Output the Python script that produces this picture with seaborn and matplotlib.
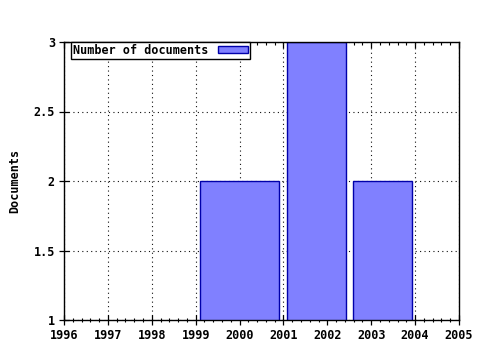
import matplotlib
matplotlib.use("Agg")
import matplotlib.pyplot as plt
import seaborn as sns
import numpy as np

# Data
years = [2000, 2002, 2003]
counts = [2, 3, 2]
bin_edges = [1999, 2001, 2002.5, 2004]
series_label = "Number of documents"
x_ticks = list(range(1996, 2006))
y_ticks = [1, 1.5, 2, 2.5, 3]
y_tick_labels = ["1", "1.5", "2", "2.5", "3"]
y_label = "Documents"

sns.set_style("white")
plt.rcParams['font.family'] = ['DejaVu Sans Mono']
plt.rcParams['font.weight'] = 'bold'
plt.rcParams['text.color'] = 'black'
plt.rcParams['axes.labelcolor'] = 'black'
plt.rcParams['xtick.color'] = 'black'
plt.rcParams['ytick.color'] = 'black'
FS = 8.5

fig = plt.figure(figsize=(4.8, 3.5), dpi=100)
ax = fig.add_axes([64/480, 1-320/350, (459-64)/480, (320-42)/350])

sns.histplot(x=years, weights=counts, bins=bin_edges, shrink=0.9,
             color="#8080ff", edgecolor="#0000aa", linewidth=1.0, alpha=1.0,
             label=series_label, ax=ax)

ax.set_xlim(1996, 2005)
ax.set_ylim(1, 3)
ax.set_xticks(x_ticks)
ax.set_xticklabels([str(t) for t in x_ticks], fontsize=FS, fontweight='bold', color='black')
ax.set_xticks(np.arange(1996, 2005.001, 0.2), minor=True)
ax.set_yticks(y_ticks)
ax.set_yticklabels(y_tick_labels, fontsize=FS, fontweight='bold', color='black')
ax.set_ylabel(y_label, fontsize=FS, fontweight='bold', labelpad=9, color='black')
ax.set_xlabel("")

ax.grid(True, which='major', color='#111111', linestyle=(0, (1, 3)), linewidth=0.8)
ax.set_axisbelow(True)

for s in ax.spines.values():
    s.set_color('black')
    s.set_linewidth(1.0)
    s.set_visible(True)

ax.tick_params(axis='x', which='major', direction='inout', length=7, width=0.9,
               color='black', pad=3, bottom=True)
ax.tick_params(axis='x', which='minor', direction='inout', length=3, width=0.8,
               color='black', bottom=True)
ax.tick_params(axis='y', which='major', direction='inout', length=7, width=0.9,
               color='black', pad=3, left=True)

top = ax.secondary_xaxis('top')
top.set_xticks(x_ticks)
top.set_xticks(np.arange(1996, 2005.001, 0.2), minor=True)
top.tick_params(which='major', direction='in', length=4, width=0.9, labeltop=False, color='black')
top.tick_params(which='minor', direction='in', length=2, width=0.8, labeltop=False, color='black')
top.spines['top'].set_visible(False)

leg = ax.legend(loc='upper left', bbox_to_anchor=(0.018, 1.0), borderaxespad=0,
                markerfirst=False, frameon=True, fancybox=False,
                borderpad=0.15, handlelength=2.6, handleheight=0.5, handletextpad=0.8,
                prop={'family': 'DejaVu Sans Mono', 'weight': 'bold', 'size': FS})
leg.get_frame().set_edgecolor('black')
leg.get_frame().set_linewidth(1.0)
leg.get_frame().set_alpha(1.0)
for t in leg.get_texts():
    t.set_color('black')

fig.savefig("out.png", dpi=100, facecolor='white')
